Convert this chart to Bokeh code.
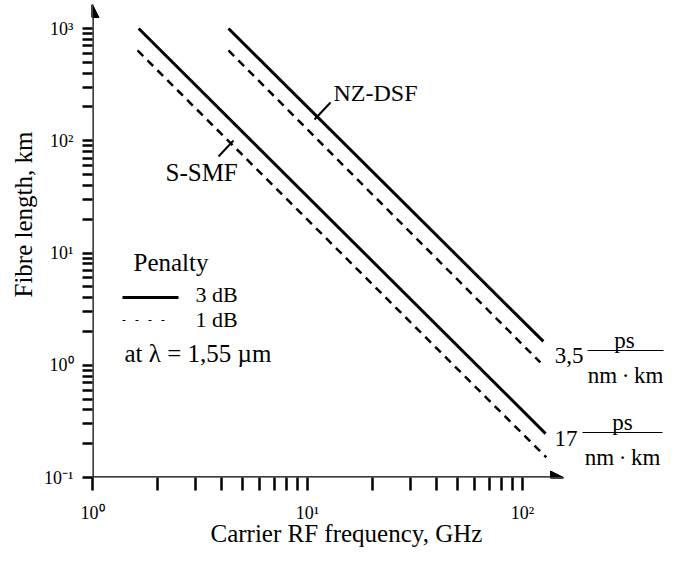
import math
from bokeh.plotting import figure
from bokeh.models import Range1d, FixedTicker, Arrow, NormalHead, Label, Title
from bokeh.embed import file_html
from bokeh.resources import INLINE

# ---- data ----
freq_ssmf_3db = [1.64, 128.0]
len_ssmf_3db = [1000.0, 0.246]
freq_ssmf_1db = [1.62, 129.0]
len_ssmf_1db = [637.0, 0.151]
freq_nzdsf_3db = [4.29, 125.0]
len_nzdsf_3db = [1000.0, 1.63]
freq_nzdsf_1db = [4.29, 121.0]
len_nzdsf_1db = [637.0, 1.06]

x_major = [1, 10, 100]
x_minor = [2, 3, 4, 5, 6, 7, 8, 9, 20, 30, 40, 50, 60, 70, 80, 90]
x_tick_labels = ["10\u2070", "10\u00b9", "10\u00b2"]
y_major = [0.1, 1, 10, 100, 1000]
y_minor = [m * d for d in [0.1, 1, 10, 100] for m in range(2, 10)]
y_tick_labels = ["10\u207b\u00b9", "10\u2070", "10\u00b9", "10\u00b2", "10\u00b3"]

FONT = "Liberation Serif"

# layout helpers: convert reference pixel positions to data space (annotations only)
def X(px):
    return 10 ** ((px - 92) / 215.0)

def Y(py):
    return 10 ** (3 - (py - 28) / 112.25)

p = figure(width=674, height=547, x_axis_type="log", y_axis_type="log",
           x_range=Range1d(1, X(674)), y_range=Range1d(0.1, Y(4)),
           output_backend="svg", toolbar_location=None,
           min_border_left=92, min_border_right=0, min_border_top=4,
           min_border_bottom=70)
p.outline_line_color = None
p.xgrid.grid_line_color = None
p.ygrid.grid_line_color = None

p.xaxis.ticker = FixedTicker(ticks=x_major, minor_ticks=x_minor)
p.yaxis.ticker = FixedTicker(ticks=y_major, minor_ticks=y_minor)
p.xaxis.major_label_overrides = {v: s for v, s in zip(x_major, x_tick_labels)}
p.yaxis.major_label_overrides = {v: s for v, s in zip(y_major, y_tick_labels)}

for ax in (p.xaxis, p.yaxis):
    ax.axis_line_color = None
    ax.major_tick_in = 0
    ax.minor_tick_in = 0
    ax.major_tick_line_width = 2.5
    ax.minor_tick_line_width = 2.5
    ax.major_tick_line_color = "black"
    ax.minor_tick_line_color = "black"
    ax.major_label_text_font = FONT
    ax.major_label_text_font_size = "18px"
    ax.major_label_text_color = "black"
p.xaxis.major_tick_out = 13
p.xaxis.minor_tick_out = 13
p.xaxis.major_label_standoff = 12
p.yaxis.major_tick_out = 10
p.yaxis.minor_tick_out = 10
p.yaxis.major_label_standoff = 9

# axis titles
p.add_layout(Title(text="Carrier RF frequency, GHz", align="left", offset=118,
                   vertical_align="top", standoff=-11, text_font=FONT,
                   text_font_size="25px", text_font_style="normal",
                   text_color="black"), "below")
p.add_layout(Title(text="Fibre length, km", align="left", offset=180,
                   standoff=10, text_font=FONT, text_font_size="25px",
                   text_font_style="normal", text_color="black"), "left")

# axis lines with arrow heads
p.add_layout(Arrow(end=NormalHead(size=13, fill_color="black", line_color="black"),
                   x_start=1, y_start=0.1, x_end=1, y_end=Y(4),
                   line_width=2.5, line_color="black"))
p.add_layout(Arrow(end=NormalHead(size=13, fill_color="black", line_color="black"),
                   x_start=1, y_start=0.1, x_end=X(563), y_end=0.1,
                   line_width=2.5, line_color="black"))

# data lines
p.line(freq_ssmf_3db, len_ssmf_3db, line_color="black", line_width=3)
p.line(freq_nzdsf_3db, len_nzdsf_3db, line_color="black", line_width=3)
p.line(freq_ssmf_1db, len_ssmf_1db, line_color="black", line_width=2.5, line_dash="8 6")
p.line(freq_nzdsf_1db, len_nzdsf_1db, line_color="black", line_width=2.5, line_dash="8 6")

def label(px, py, text, size="24px", align="left", baseline="middle"):
    p.add_layout(Label(x=X(px), y=Y(py), text=text, text_font=FONT,
                       text_font_size=size, text_align=align,
                       text_baseline=baseline, text_color="black"))

# curve labels and leaders
label(333, 92, "NZ-DSF")
p.line([X(330), X(314)], [Y(102), Y(119)], line_color="black", line_width=2)
label(165, 172, "S-SMF", size="25px")
p.line([X(218), X(233)], [Y(156), Y(140)], line_color="black", line_width=2)

# legend
label(133, 262, "Penalty", size="25px")
p.line([X(122), X(178)], [Y(297), Y(297)], line_color="black", line_width=3)
label(195, 294, "3 dB", size="22px")
p.line([X(122), X(167)], [Y(320), Y(320)], line_color="black", line_width=1.2, line_dash="3 10")
label(195, 319, "1 dB", size="22px")
label(124, 353, "at \u03bb = 1,55 \u00b5m", size="25px", baseline="alphabetic")

# dispersion labels
thin = "\u2009"
label(583, 355, "3,5", size="23px", align="right", baseline="alphabetic")
label(624, 340, "ps", size="23px", align="center", baseline="alphabetic")
p.line([X(587), X(663)], [Y(350), Y(350)], line_color="black", line_width=1.2)
label(625, 375, "nm" + thin + "\u00b7" + thin + "km", size="23px", align="center", baseline="alphabetic")
label(577, 438, "17", size="23px", align="right", baseline="alphabetic")
label(622, 422, "ps", size="23px", align="center", baseline="alphabetic")
p.line([X(582), X(662)], [Y(432), Y(432)], line_color="black", line_width=1.2)
label(622, 457, "nm" + thin + "\u00b7" + thin + "km", size="23px", align="center", baseline="alphabetic")

open("out.html", "w").write(file_html(p, INLINE))
